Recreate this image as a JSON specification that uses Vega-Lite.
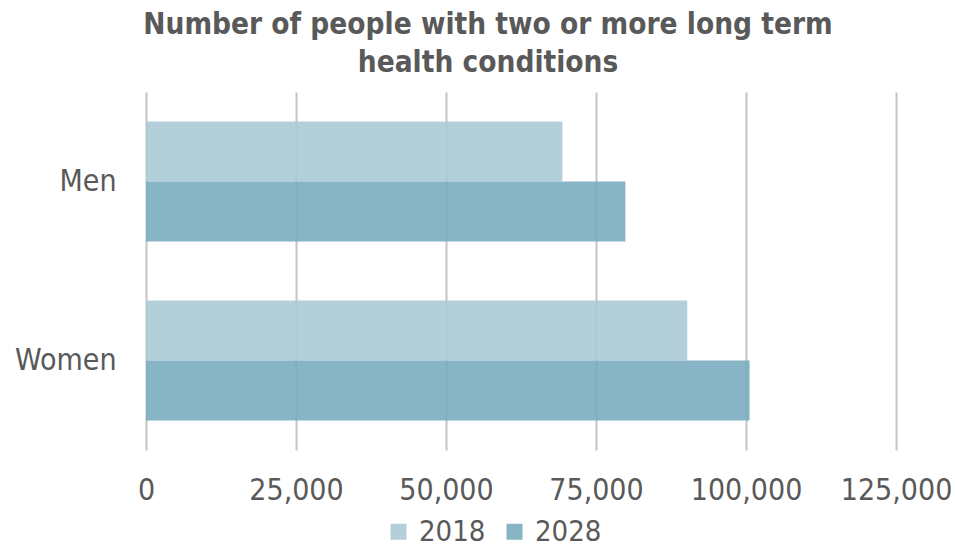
{
  "$schema": "https://vega.github.io/schema/vega-lite/v6.json",
  "autosize": "none",
  "width": 750,
  "height": 358,
  "padding": {"left": 146, "top": 92, "right": 59, "bottom": 98},
  "background": "white",
  "title": {
    "text": ["Number of people with two or more long term", "health conditions"],
    "font": "DejaVu Sans Condensed",
    "fontSize": 29.5,
    "fontWeight": "bold",
    "color": "#595959",
    "anchor": "middle",
    "dx": -33,
    "offset": 14,
    "lineHeight": 38
  },
  "data": {
    "values": [
      {"group": "Men", "year": "2018", "value": 69400},
      {"group": "Men", "year": "2028", "value": 79900},
      {"group": "Women", "year": "2018", "value": 90200},
      {"group": "Women", "year": "2028", "value": 100600}
    ]
  },
  "mark": {"type": "bar", "fillOpacity": 0.9},
  "encoding": {
    "y": {
      "field": "group",
      "type": "nominal",
      "sort": ["Men", "Women"],
      "scale": {"paddingInner": 0.33, "paddingOuter": 0.165},
      "axis": {
        "title": null,
        "domain": false,
        "ticks": false,
        "labelPadding": 30,
        "labelFont": "DejaVu Sans Condensed",
        "labelFontSize": 30,
        "labelColor": "#595959"
      }
    },
    "yOffset": {"field": "year", "type": "nominal", "sort": ["2018", "2028"], "scale": {"paddingInner": 0, "paddingOuter": 0}},
    "x": {
      "field": "value",
      "type": "quantitative",
      "scale": {"domain": [0, 125000], "nice": false},
      "axis": {
        "title": null,
        "values": [0, 25000, 50000, 75000, 100000, 125000],
        "format": ",d",
        "domain": false,
        "ticks": false,
        "grid": true,
        "gridColor": "#c4c4c4",
        "gridWidth": 2,
        "labelPadding": 25,
        "labelFont": "DejaVu Sans Condensed",
        "labelFontSize": 30,
        "labelColor": "#595959",
        "labelFlush": false
      }
    },
    "color": {
      "field": "year",
      "type": "nominal",
      "sort": ["2018", "2028"],
      "scale": {"domain": ["2018", "2028"], "range": ["#abcbd6", "#7badbf"]},
      "legend": {
        "title": null,
        "orient": "none",
        "direction": "horizontal",
        "legendX": 238,
        "legendY": 425,
        "symbolType": "square",
        "symbolSize": 256,
        "symbolOpacity": 0.9,
        "symbolStrokeWidth": 0,
        "labelFont": "DejaVu Sans Condensed",
        "labelFontSize": 29,
        "labelColor": "#595959",
        "labelOffset": 6,
        "columnPadding": 14
      }
    }
  },
  "config": {"view": {"stroke": null}}
}
